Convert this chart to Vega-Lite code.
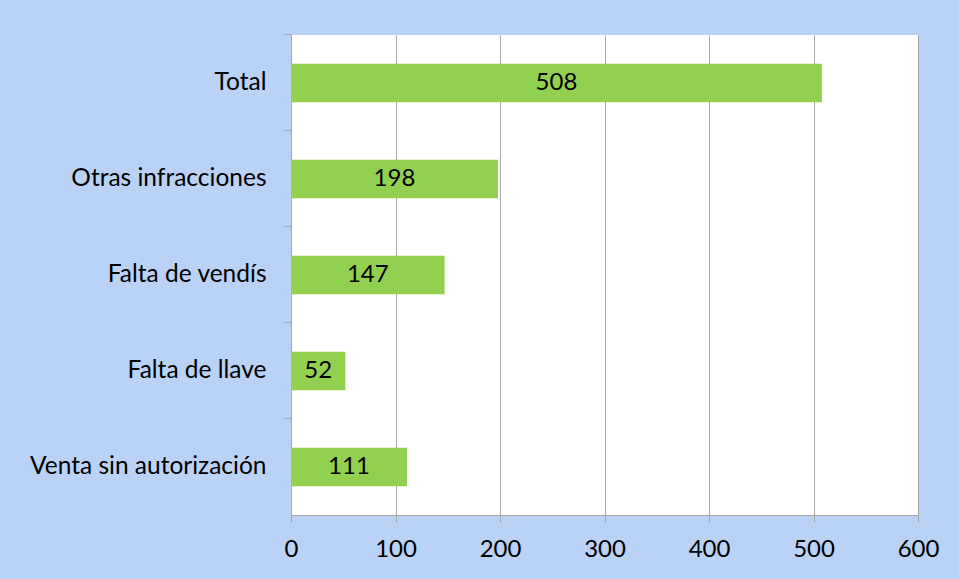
{
  "$schema": "https://vega.github.io/schema/vega-lite/v6.json",
  "width": 627,
  "height": 480,
  "autosize": {"type": "none"},
  "padding": {"left": 291, "top": 35, "right": 41, "bottom": 64},
  "background": "#BAD2F5",
  "config": {
    "view": {"fill": "white", "stroke": null},
    "font": "Lato"
  },
  "data": {
    "values": [
      {"categoria": "Total", "valor": 508},
      {"categoria": "Otras infracciones", "valor": 198},
      {"categoria": "Falta de vendís", "valor": 147},
      {"categoria": "Falta de llave", "valor": 52},
      {"categoria": "Venta sin autorización", "valor": 111}
    ]
  },
  "encoding": {
    "y": {
      "field": "categoria",
      "type": "nominal",
      "sort": null,
      "scale": {"paddingInner": 0.6, "paddingOuter": 0.3}
    }
  },
  "layer": [
    {
      "mark": {"type": "bar", "color": "#92D050"},
      "encoding": {
        "x": {
          "field": "valor",
          "type": "quantitative",
          "scale": {"domain": [0, 600]},
          "axis": {
            "title": null,
            "values": [0, 100, 200, 300, 400, 500, 600],
            "grid": true,
            "gridColor": "#A6A6A6",
            "gridOpacity": 1,
            "domainColor": "#A6A6A6",
            "tickColor": "#A6A6A6",
            "tickSize": 7,
            "labelFontSize": 24,
            "labelColor": "black",
            "labelPadding": 15,
            "labelFlush": false
          }
        },
        "y": {
          "field": "categoria",
          "type": "nominal",
          "sort": null,
          "axis": {
            "title": null,
            "orient": "left",
            "ticks": false,
            "domainColor": "#A6A6A6",
            "labelFontSize": 24.5,
            "labelColor": "black",
            "labelPadding": 25,
            "labelLimit": 400
          }
        }
      }
    },
    {
      "mark": {"type": "text", "fontSize": 24, "color": "black", "align": "center", "baseline": "middle"},
      "encoding": {
        "x": {
          "field": "valor",
          "type": "quantitative",
          "scale": {"domain": [0, 1200]},
          "axis": null
        },
        "y": {
          "field": "categoria",
          "type": "nominal",
          "sort": null,
          "axis": {
            "title": null,
            "orient": "left",
            "labels": false,
            "domain": false,
            "ticks": true,
            "tickSize": 7,
            "tickColor": "#A6A6A6",
            "bandPosition": -0.75
          }
        },
        "text": {"field": "valor", "type": "quantitative"}
      }
    }
  ],
  "resolve": {"scale": {"x": "independent"}, "axis": {"y": "independent"}}
}
